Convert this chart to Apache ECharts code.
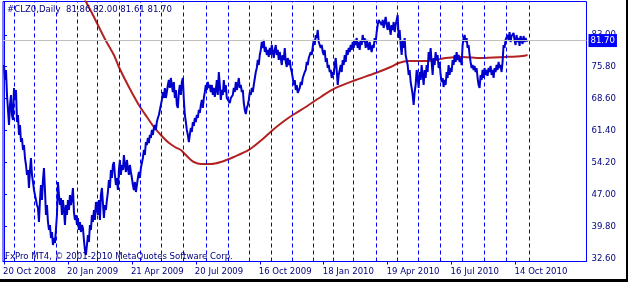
<!DOCTYPE html>
<html>
<head>
<meta charset="utf-8">
<script src="https://cdn.jsdelivr.net/npm/echarts@6/dist/echarts.min.js"></script>
<style>
html,body{margin:0;padding:0;background:#fff;}
#c{width:628px;height:282px;}
</style>
</head>
<body>
<div id="c"></div>
<script>
// ---- data ----
const symbolText = '#CLZ0,Daily';
const ohlc = [81.86, 82.00, 81.61, 81.70];
const lastPrice = 81.70;
const copyright = 'FxPro MT4, \u00a9 2001-2010 MetaQuotes Software Corp.';

const dateTicks = [0, 64, 128, 192, 256, 320, 384, 448, 512];
const dateLabels = ['20 Oct 2008', '20 Jan 2009', '21 Apr 2009', '20 Jul 2009', '16 Oct 2009',
  '18 Jan 2010', '19 Apr 2010', '16 Jul 2010', '14 Oct 2010'];
const priceTicks = [32.60, 39.80, 47.00, 54.20, 61.40, 68.60, 75.80, 83.00];

// bar indices of the first trading day of each month (period separators)
const monthSep = [10, 30, 52, 73, 93, 115, 136, 157, 179, 202, 224, 245, 267, 288, 310, 330, 350,
  373, 394, 415, 437, 459, 481, 503, 526];

// daily closes, bar 0 = 20 Oct 2008
const closes = [
76.19,72.81,75.07,69.43,66.05,62.66,67.17,69.43,64.92,63.79,71.01,68.30,70.56,63.34,64.92,60.41,62.66,58.83,59.73,57.03,
58.15,55.22,53.64,51.39,52.52,48.46,52.52,55.22,51.39,49.81,48.01,48.46,45.75,44.62,43.95,40.79,45.75,49.13,45.75,50.26,
52.97,48.01,42.37,44.62,40.79,38.99,40.11,37.18,38.53,35.60,37.18,36.05,36.28,42.37,49.81,46.88,44.62,46.20,42.37,45.75,
43.50,40.11,44.62,42.37,45.75,43.50,46.88,44.62,46.20,48.46,43.04,41.24,42.37,40.11,41.69,38.99,40.79,38.53,40.11,39.44,
36.73,34.48,33.35,35.60,37.86,36.28,40.11,38.99,42.37,40.79,43.50,41.24,45.30,43.95,42.37,45.75,41.24,46.88,48.46,48.01,
41.69,44.62,43.50,45.75,47.55,50.26,48.46,52.52,50.71,53.64,54.32,51.39,49.13,50.71,48.01,52.52,54.77,51.39,53.64,52.52,
55.90,53.64,52.06,54.77,52.97,51.39,53.64,52.06,50.71,49.13,48.01,49.81,47.55,49.13,50.71,52.06,50.71,52.97,52.52,55.22,
57.03,55.90,58.83,58.15,59.73,58.60,60.41,59.73,61.54,60.41,61.99,62.66,61.54,63.34,64.24,64.92,66.05,67.17,68.30,70.10,
68.75,71.01,68.75,70.10,71.68,72.81,71.01,73.26,71.68,70.10,72.36,68.75,70.56,67.17,66.50,70.10,71.68,69.43,72.36,73.26,
68.30,64.92,63.34,61.54,60.41,58.83,60.41,61.99,61.08,63.34,62.44,64.24,63.34,64.92,64.24,66.05,65.37,67.17,68.30,66.50,
68.75,70.10,71.68,70.56,72.36,71.01,71.68,70.10,71.68,69.43,71.01,68.98,70.56,72.81,69.43,74.61,71.68,68.30,70.56,69.43,
72.81,70.10,71.68,68.75,68.30,68.98,67.62,68.75,68.30,69.43,71.01,70.10,72.36,70.56,71.68,73.26,71.01,71.68,70.10,70.56,
67.62,66.05,65.14,66.50,67.17,68.30,70.10,69.43,71.01,70.10,71.68,72.13,74.61,75.52,77.32,76.19,78.45,79.58,81.38,80.03,
81.83,79.12,80.25,78.45,79.58,78.00,80.03,78.45,80.70,79.12,77.77,79.58,80.70,78.45,79.58,77.32,79.12,77.77,76.19,78.45,
77.32,80.03,76.87,75.74,77.77,76.19,77.32,75.52,74.61,73.26,71.68,72.81,70.56,71.68,69.88,69.43,71.01,72.36,71.68,73.26,
72.81,74.61,75.07,76.87,76.19,77.77,77.32,79.12,78.45,80.25,81.83,80.70,82.96,82.28,84.09,81.38,81.83,80.03,80.70,79.12,
78.45,79.58,76.87,77.77,75.52,76.19,74.61,75.07,73.26,74.61,73.94,76.19,77.77,75.07,71.68,73.94,75.07,76.19,74.61,77.32,
76.19,78.45,76.87,79.58,78.45,80.03,79.12,80.70,79.58,81.38,80.03,81.83,80.70,82.28,80.03,81.38,79.58,81.83,80.70,82.96,
81.38,82.28,80.03,81.83,80.70,79.58,81.38,80.03,79.12,80.70,80.03,82.28,81.38,83.63,85.21,86.34,85.89,86.79,85.21,86.34,
84.54,85.89,87.02,85.21,84.09,85.89,84.54,82.96,85.21,84.09,85.89,83.63,85.21,86.34,87.47,82.28,84.09,80.70,78.45,81.83,
80.03,82.28,78.45,77.32,76.19,73.94,75.07,72.36,71.01,69.43,67.17,70.10,71.68,75.07,73.26,71.01,74.61,72.81,76.19,73.94,
71.68,75.07,73.26,76.19,74.61,79.12,77.32,80.03,76.87,73.94,77.77,76.19,79.12,77.32,78.45,75.52,76.87,73.94,72.36,73.26,
71.23,72.81,71.68,74.61,73.26,76.19,73.94,75.52,74.61,77.32,76.19,78.45,76.87,79.12,77.32,78.45,76.87,77.77,76.19,80.70,
82.28,82.96,81.38,82.28,80.03,80.70,78.45,76.87,75.52,76.19,75.07,75.97,74.61,75.52,73.26,71.68,71.01,73.94,72.81,75.07,
73.26,75.52,73.94,75.07,73.71,75.52,74.61,75.97,73.94,75.07,73.26,75.52,74.61,76.19,75.07,76.87,75.52,76.19,74.61,76.87,
80.70,80.03,81.83,81.38,82.96,81.83,83.63,81.38,82.73,82.28,83.41,81.83,80.70,82.96,81.38,82.28,80.48,82.73,81.83,80.93,
82.73,81.38,82.28,81.60,81.70
];

// moving average, sampled at bar indices
const maBars = [80, 89, 101, 110, 115, 125, 135, 143, 150, 157, 164, 171, 177, 180, 185, 190, 197, 207, 217, 230,
  245, 259, 269, 279, 289, 302, 317, 332, 352, 372, 387, 395, 405, 425, 442, 459, 477, 502, 519, 524];
const maValues = [91.30, 87.47, 82.06, 78.45, 75.74, 71.23, 67.17, 64.47, 62.21, 60.41, 58.83, 57.70, 57.03, 56.35, 55.22,
  54.32, 53.87, 53.87, 54.32, 55.45, 57.03, 59.50, 61.54, 63.34, 64.92, 66.72, 68.98, 71.01, 72.81, 74.39, 75.74, 76.64,
  77.09, 77.09, 77.77, 78.00, 77.77, 78.00, 78.22, 78.45];

// ---- chart ----
const FONT = '"DejaVu Sans Condensed", "DejaVu Sans", sans-serif';
const FS = 9.5;
const TXT = '#000080';
const AX = '#0000ff';

const chart = echarts.init(document.getElementById('c'), null, {renderer: 'canvas', width: 628, height: 282});

const option = {
  animation: false,
  backgroundColor: '#ffffff',
  grid: {left: 2.5, right: 41.5, top: 1.5, bottom: 20.5, show: true, borderColor: AX, borderWidth: 1,
    backgroundColor: '#ffffff', containLabel: false},
  xAxis: {
    type: 'value', min: -1, max: 583,
    axisLine: {show: true, lineStyle: {color: AX, width: 1}},
    axisTick: {show: true, customValues: dateTicks, length: 3, lineStyle: {color: AX}},
    axisLabel: {show: true, customValues: dateTicks, color: TXT, fontFamily: FONT, fontSize: FS,
      align: 'left', margin: 5, padding: [0, 0, 0, -1],
      formatter: v => dateLabels[dateTicks.indexOf(v)] || ''},
    splitLine: {show: false}
  },
  yAxis: {
    type: 'value', position: 'right', min: 31.88, max: 90.51,
    axisLine: {show: true, lineStyle: {color: AX, width: 1}},
    axisTick: {show: true, customValues: priceTicks, length: 3, lineStyle: {color: AX}},
    axisLabel: {show: true, customValues: priceTicks, color: TXT, fontFamily: FONT, fontSize: FS, margin: 5,
      formatter: v => v.toFixed(2)},
    splitLine: {show: false}
  },
  series: [
    {
      type: 'line', name: 'sep', data: [], z: 1, silent: true,
      markLine: {
        silent: true, symbol: ['none', 'none'], animation: false,
        label: {show: false},
        lineStyle: {color: AX, width: 1, type: [4, 3]},
        data: monthSep.map(v => ({xAxis: v}))
      }
    },
    {
      type: 'line', name: 'last', data: [], z: 5, silent: true,
      markLine: {
        silent: true, symbol: ['none', 'none'], animation: false,
        lineStyle: {color: '#c0c0c0', width: 1, type: 'solid'},
        label: {show: true, position: 'end', distance: 2, color: '#ffffff', backgroundColor: AX,
          fontFamily: FONT, fontSize: FS, padding: [2, 2, 1, 2], formatter: () => lastPrice.toFixed(2)},
        data: [{yAxis: lastPrice}]
      }
    },
    {
      type: 'line', name: 'MA', z: 3, clip: true, smooth: 0.3, showSymbol: false, silent: true,
      lineStyle: {color: '#b22222', width: 2},
      data: maBars.map((b, i) => [b, maValues[i]])
    },
    {
      type: 'line', name: 'CLZ0', z: 4, clip: true, showSymbol: false, silent: true,
      lineStyle: {color: '#0000cc', width: 2},
      data: closes.map((v, i) => [i, v])
    }
  ],
  graphic: [
    {type: 'text', left: 7, top: 5, z: 10, style: {text: symbolText + '  ' + ohlc.map(v => v.toFixed(2)).join(' '),
      fill: TXT, font: FS + 'px ' + FONT}},
    {type: 'text', left: 5, top: 252, z: 10, style: {text: copyright, fill: TXT, font: FS + 'px ' + FONT}},
    {type: 'rect', left: 0, top: 279, z: 20, shape: {width: 628, height: 3}, style: {fill: '#000'}},
    {type: 'rect', left: 626, top: 0, z: 20, shape: {width: 2, height: 282}, style: {fill: '#000'}}
  ]
};
chart.setOption(option);
</script>
</body>
</html>
